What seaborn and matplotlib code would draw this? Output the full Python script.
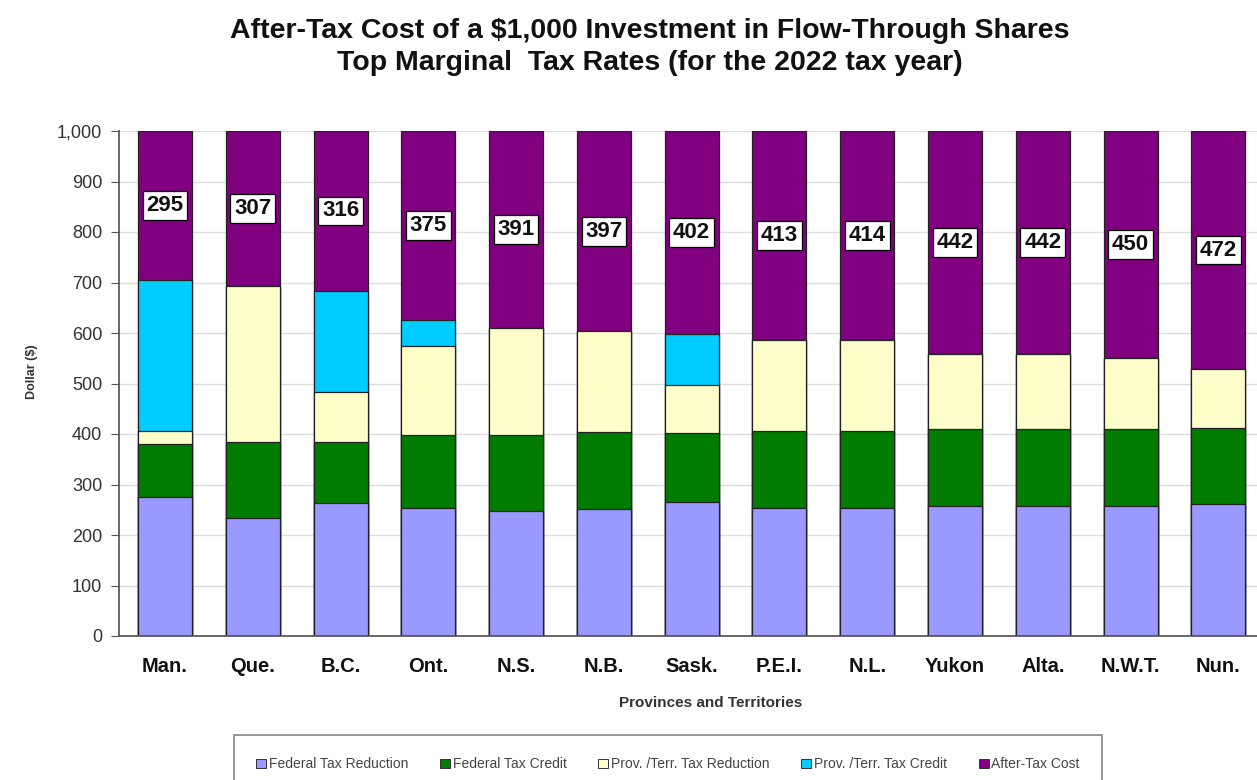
import matplotlib
matplotlib.use("Agg")
import matplotlib.pyplot as plt
from matplotlib.patches import Patch
import seaborn as sns
import numpy as np

provinces = ["Man.", "Que.", "B.C.", "Ont.", "N.S.", "N.B.", "Sask.",
             "P.E.I.", "N.L.", "Yukon", "Alta.", "N.W.T.", "Nun."]
federal_reduction = [275, 233, 264, 253, 247, 251, 265, 253, 253, 258, 258, 258, 262]
federal_credit = [105, 152, 120, 145, 151, 152, 137, 152, 152, 152, 152, 152, 150]
prov_reduction = [25, 308, 100, 177, 211, 200, 95, 182, 181, 148, 148, 140, 116]
prov_credit = [300, 0, 200, 50, 0, 0, 101, 0, 0, 0, 0, 0, 0]
after_tax = [295, 307, 316, 375, 391, 397, 402, 413, 414, 442, 442, 450, 472]

series = ["Federal Tax Reduction", "Federal Tax Credit", "Prov. /Terr. Tax Reduction",
          "Prov. /Terr. Tax Credit", "After-Tax Cost"]
colors = ["#9999FF", "#007C00", "#FFFFCC", "#00CCFF", "#800080"]

sns.set_theme(style="white")
plt.rcParams["font.family"] = ["Liberation Sans", "DejaVu Sans"]

layers = np.array([federal_reduction, federal_credit, prov_reduction,
                   prov_credit, after_tax])
cum = np.cumsum(layers, axis=0)

fig = plt.figure(figsize=(12.57, 7.8), dpi=100)
ax = fig.add_axes([119 / 1257, 1 - 636 / 780, 1 - 119 / 1257, (636 - 131) / 780])

# draw cumulative totals from the top layer down so they stack
for i in range(len(series) - 1, -1, -1):
    sns.barplot(x=provinces, y=cum[i], color=colors[i], width=0.615,
                edgecolor="#222222", linewidth=0.9, saturation=1, ax=ax, zorder=2)

# value labels in the middle of the after-tax segment
for k, v in enumerate(after_tax):
    mid = cum[3][k] + v / 2
    ax.text(k, mid, str(v), ha="center", va="center", fontsize=16,
            fontweight="bold", color="#111111", zorder=5,
            bbox=dict(boxstyle="square,pad=0.17", fc="white", ec="black", lw=0.9))

ax.set_ylim(0, 1000)
ax.set_xlim(-0.524, 12.44)
ax.set_yticks(range(0, 1001, 100))
ax.set_yticklabels([f"{t:,}" for t in range(0, 1001, 100)], fontsize=13, color="#333333")
ax.set_xticks(range(len(provinces)))
ax.set_xticklabels(provinces, fontsize=14.5, fontweight="bold", color="#111111")
ax.grid(axis="y", color="#DDDDDD", linewidth=1, zorder=0)
ax.set_axisbelow(True)
for s in ["top", "right"]:
    ax.spines[s].set_visible(False)
ax.spines["left"].set_color("#555555")
ax.spines["bottom"].set_color("#555555")
ax.tick_params(axis="y", left=True, length=6, width=0.8, color="#555555", pad=6)
ax.tick_params(axis="x", bottom=False, pad=9)
ax.set_xlabel("")
ax.set_ylabel("")

fig.text(32 / 1257, 1 - 372 / 780, "Dollar ($)", rotation=90, ha="center", va="center",
         fontsize=9, fontweight="bold", color="#333333")
fig.text(711 / 1257, 1 - 703 / 780, "Provinces and Territories", ha="center", va="center",
         fontsize=11, fontweight="bold", color="#333333")
fig.text(650 / 1257, 1 - 47 / 780,
         "After-Tax Cost of a $1,000 Investment in Flow-Through Shares\nTop Marginal  Tax Rates (for the 2022 tax year)",
         ha="center", va="center", fontsize=20.5, fontweight="bold", linespacing=1.3,
         color="#111111")

handles = [Patch(facecolor=c, edgecolor="#333333", linewidth=0.7, label=s)
           for c, s in zip(colors, series)]
leg = fig.legend(handles=handles, loc="upper center", bbox_to_anchor=(668 / 1257, 1 - 735 / 780),
                 ncol=5, fontsize=10, frameon=True, fancybox=False, handlelength=0.7,
                 handleheight=0.7, handletextpad=0.2, columnspacing=2.3,
                 borderpad=1.6, borderaxespad=0)
for t in leg.get_texts():
    t.set_color("#444444")
leg.get_frame().set_edgecolor("#666666")
leg.get_frame().set_linewidth(1.2)

fig.savefig("out.png", dpi=100)
